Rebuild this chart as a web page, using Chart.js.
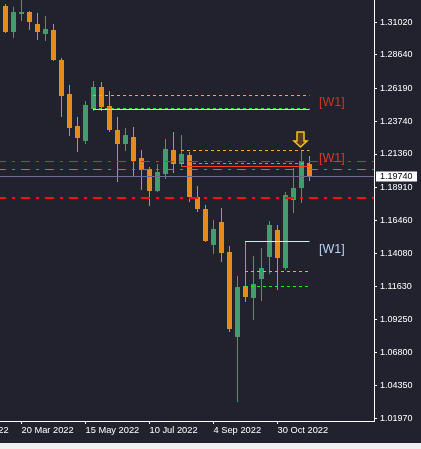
<!DOCTYPE html>
<html>
<head>
<meta charset="utf-8">
<script src="https://cdn.jsdelivr.net/npm/chart.js@4"></script>
<style>
  html, body { margin: 0; padding: 0; background: #f0f0f0; }
  #wrap { width: 421px; height: 443px; background: #22222e; }
</style>
</head>
<body>
<div id="wrap"><canvas id="chart"></canvas></div>
<script>
// weekly candles, index 0 = week of 6 Mar 2022
const opens  = [1.32218, 1.30311, 1.31631, 1.31778, 1.30898, 1.30164, 1.30457, 1.28257, 1.25762, 1.23415,
                1.22315, 1.24662, 1.26276, 1.24882, 1.23121, 1.22094, 1.22608, 1.21067, 1.20260, 1.18647,
                1.19894, 1.21654, 1.20627, 1.21287, 1.18206, 1.17326, 1.14685, 1.16372, 1.14172, 1.07936,
                1.11677, 1.10797, 1.12191, 1.13805, 1.15786, 1.12998, 1.17986, 1.18867, 1.20627];
const highs  = [1.32365, 1.32167, 1.32805, 1.31851, 1.31704, 1.31484, 1.30898, 1.28403, 1.26423, 1.24075,
                1.25249, 1.26716, 1.26643, 1.25982, 1.24075, 1.23268, 1.23342, 1.21654, 1.20407, 1.20627,
                1.22461, 1.22975, 1.22755, 1.21508, 1.19013, 1.17620, 1.16519, 1.17399, 1.14612, 1.12411,
                1.14979, 1.13878, 1.14465, 1.16446, 1.16152, 1.18573, 1.20334, 1.21581, 1.21214];
const lows   = [1.30237, 1.29870, 1.31118, 1.30457, 1.29724, 1.29650, 1.28183, 1.24075, 1.22681, 1.21508,
                1.22094, 1.24515, 1.24515, 1.22975, 1.19307, 1.21581, 1.19747, 1.18720, 1.17546, 1.18573,
                1.19527, 1.19967, 1.20481, 1.17840, 1.17106, 1.14905, 1.14025, 1.13438, 1.08303, 1.03168,
                1.10504, 1.09183, 1.10577, 1.12558, 1.11384, 1.12851, 1.17033, 1.17766, 1.19380];
const closes = [1.30311, 1.31778, 1.31778, 1.31044, 1.30311, 1.30531, 1.28257, 1.25616, 1.23268, 1.22535,
                1.24955, 1.26276, 1.24809, 1.23121, 1.22094, 1.22755, 1.20847, 1.20187, 1.18647, 1.20040,
                1.21728, 1.20627, 1.21361, 1.18206, 1.17326, 1.14979, 1.15859, 1.14098, 1.08523, 1.11604,
                1.10870, 1.11824, 1.12998, 1.16152, 1.13732, 1.18353, 1.18867, 1.20847, 1.19740];

const dateLabels = ['23 Jan 2022', '20 Mar 2022', '15 May 2022', '10 Jul 2022', '4 Sep 2022', '30 Oct 2022'];
const dateIdx = [-6, 2, 10, 18, 26, 34];
const priceLabels = ['1.31020', '1.28640', '1.26190', '1.23740', '1.21360', '1.18910', '1.16460',
                     '1.14080', '1.11630', '1.09250', '1.06800', '1.04350', '1.01970'];

// horizontal lines across the whole chart
const redLevel = 1.20825;
const tealLevel = 1.20238;
const redThickLevel = 1.18111;

// W1 zones: start candle, top dashed, inner dashed, solid edge, label level
const zoneStart = [11, 22, 30];
const zoneDashed = [1.25667, 1.21654, 1.12756];
const zoneInner = [1.24713, 1.20679, 1.11655];
const zoneEdge = [1.24640, 1.20480, 1.14957];
const zoneLabelLevel = [1.25154, 1.21031, 1.14370];
const zoneText = ['[W1]', '[W1]', '[W1]'];

const arrowIdx = 37;
const arrowLevel = 1.21874;

const xMin = -0.6875, xMax = 46.0625;
const yMin = 1.01774, yMax = 1.32658;

const bull = '#3b9f6e';
const bear = '#e8891c';
const idx = opens.map(function(v, i) { return i; });
const colors = idx.map(function(i) { return closes[i] >= opens[i] ? bull : bear; });

// keep the plot area flush with the canvas edges
function noPad(scale) {
  scale.paddingLeft = 0;
  scale.paddingRight = 0;
  scale.paddingTop = 0;
  scale.paddingBottom = 0;
}

const overlay = {
  id: 'overlay',
  afterDatasetsDraw(chart) {
    const ctx = chart.ctx;
    const area = chart.chartArea;
    const x = chart.scales.x;
    const y = chart.scales.y;
    ctx.save();
    ctx.beginPath();
    ctx.rect(area.left, area.top, area.right - area.left, area.bottom - area.top);
    ctx.clip();

    function hline(price, x0, x1, color, width, dash, offset) {
      const py = Math.round(y.getPixelForValue(price)) + (width % 2 ? 0.5 : 0);
      ctx.strokeStyle = color;
      ctx.lineWidth = width;
      ctx.setLineDash(dash || []);
      ctx.lineDashOffset = offset || 0;
      ctx.beginPath();
      ctx.moveTo(x0, py);
      ctx.lineTo(x1, py);
      ctx.stroke();
    }

    const dashDot = [9, 6, 3, 6];
    hline(redLevel, area.left, area.right, '#e52626', 1, dashDot, 3);
    hline(tealLevel, area.left, area.right, '#3d9f75', 1, dashDot, 3);
    hline(closes[closes.length - 1], area.left, area.right, '#6c6c96', 1);
    hline(redThickLevel, area.left, area.right, '#ff1010', 2, dashDot, 3);

    const edgeColors = ['#ffe033', '#ff4020', '#d0eef0'];
    const end = x.getPixelForValue(idx.length - 1);
    zoneStart.forEach(function(s, i) {
      const x0 = x.getPixelForValue(s) - 0.5;
      hline(zoneDashed[i], x0, end, '#f2a83a', 1, [3, 3]);
      hline(zoneEdge[i], x0, end, edgeColors[i], 1);
      hline(zoneInner[i], x0, end, '#22ee22', 1, [3, 3]);
    });

    ctx.setLineDash([]);
    const labelColors = ['#c8391d', '#d63e1f', '#b8d4f4'];
    ctx.font = '12.5px "Liberation Sans", Arial, sans-serif';
    ctx.textAlign = 'left';
    ctx.textBaseline = 'middle';
    zoneText.forEach(function(t, i) {
      ctx.fillStyle = labelColors[i];
      ctx.fillText(t, end + 9.5, y.getPixelForValue(zoneLabelLevel[i]));
    });

    // down arrow
    const cx = x.getPixelForValue(arrowIdx) - 1;
    const tip = y.getPixelForValue(arrowLevel);
    const top = tip - 15;
    ctx.beginPath();
    ctx.moveTo(cx - 3.5, top);
    ctx.lineTo(cx + 3.5, top);
    ctx.lineTo(cx + 3.5, top + 9);
    ctx.lineTo(cx + 6.5, top + 9);
    ctx.lineTo(cx, tip);
    ctx.lineTo(cx - 6.5, top + 9);
    ctx.lineTo(cx - 3.5, top + 9);
    ctx.closePath();
    ctx.fillStyle = '#5a3a1a';
    ctx.fill();
    ctx.strokeStyle = '#f5c518';
    ctx.lineWidth = 1.5;
    ctx.stroke();
    ctx.restore();
  },
  afterDraw(chart) {
    // current price box on the right axis
    const ctx = chart.ctx;
    const y = chart.scales.y;
    const last = closes[closes.length - 1];
    const py = Math.round(y.getPixelForValue(last));
    ctx.save();
    ctx.fillStyle = '#ffffff';
    ctx.fillRect(y.left + 2, py - 4.5, 41, 10);
    ctx.fillStyle = '#000000';
    ctx.font = '9px "Liberation Sans", Arial, sans-serif';
    ctx.textAlign = 'left';
    ctx.textBaseline = 'middle';
    ctx.fillText(last.toFixed(5), y.left + 6, py + 0.5);
    ctx.restore();
  }
};

new Chart(document.getElementById('chart'), {
  type: 'bar',
  data: {
    datasets: [
      {
        label: 'wick',
        data: idx.map(function(i) { return { x: i, y: [lows[i], highs[i]] }; }),
        backgroundColor: colors,
        maxBarThickness: 1,
        inflateAmount: 0,
        grouped: false,
        order: 2
      },
      {
        label: 'body',
        data: idx.map(function(i) { return { x: i, y: [opens[i], closes[i]] }; }),
        backgroundColor: colors,
        maxBarThickness: 5,
        inflateAmount: 0,
        grouped: false,
        order: 1
      }
    ]
  },
  options: {
    responsive: true,
    maintainAspectRatio: false,
    animation: false,
    layout: { padding: 0, autoPadding: false },
    plugins: { legend: { display: false }, tooltip: { enabled: false } },
    scales: {
      x: {
        type: 'linear',
        offset: false,
        min: xMin,
        max: xMax,
        afterFit: function(scale) { scale.height = 22; noPad(scale); },
        afterBuildTicks: function(scale) {
          scale.ticks = dateIdx.map(function(v) { return { value: v }; });
          scale.min = xMin;
          scale.max = xMax;
        },
        grid: { offset: false, drawOnChartArea: false, drawTicks: true, tickLength: 3, color: '#ffffff' },
        border: { display: true, color: '#ffffff' },
        ticks: {
          autoSkip: false,
          maxRotation: 0,
          align: 'start',
          padding: 1,
          color: '#ffffff',
          font: { family: 'Liberation Sans', size: 9.3 },
          callback: function(value, i) { return dateLabels[i]; }
        }
      },
      y: {
        position: 'right',
        min: yMin,
        max: yMax,
        afterFit: function(scale) { scale.width = 47; noPad(scale); },
        afterBuildTicks: function(scale) {
          scale.ticks = priceLabels.map(function(l) { return { value: parseFloat(l) }; });
          scale.min = yMin;
          scale.max = yMax;
        },
        grid: { drawOnChartArea: false, drawTicks: true, tickLength: 3, color: '#ffffff' },
        border: { display: true, color: '#ffffff' },
        ticks: {
          padding: 3,
          color: '#ffffff',
          font: { family: 'Liberation Sans', size: 9 },
          callback: function(value, i) { return priceLabels[i]; }
        }
      }
    }
  },
  plugins: [overlay]
});
</script>
</body>
</html>
